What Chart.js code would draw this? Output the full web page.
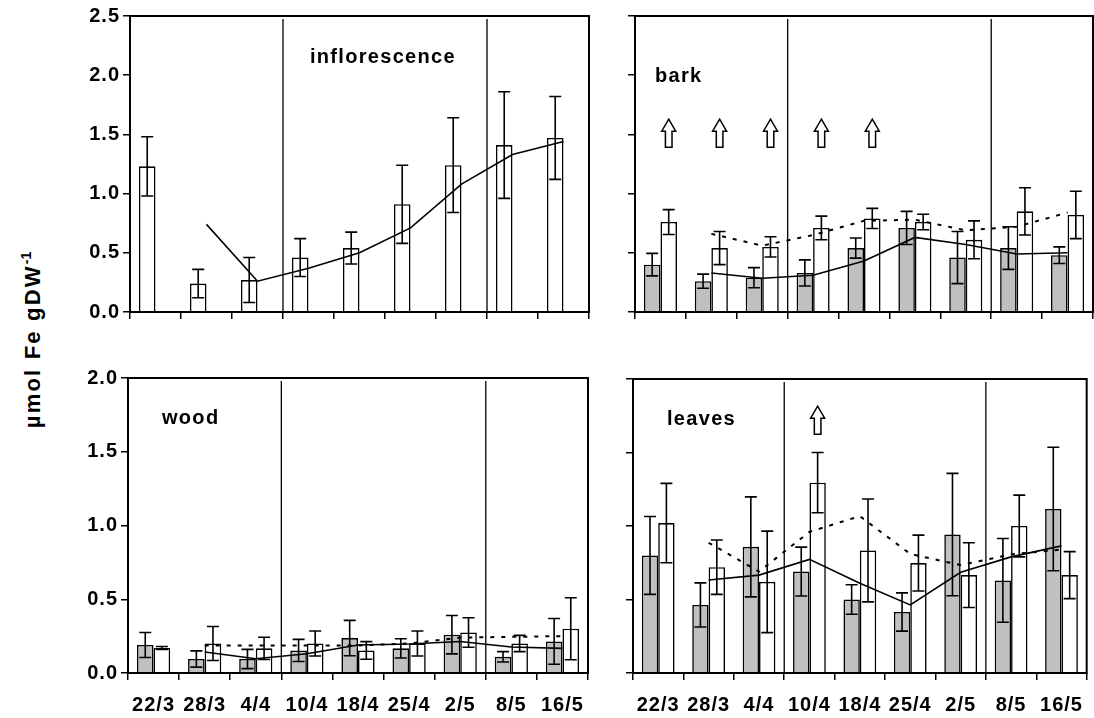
<!DOCTYPE html>
<html>
<head>
<title>Fe content by tissue</title>
<script src="https://cdn.jsdelivr.net/npm/chart.js"></script>
<style>
  body { margin: 0; background: #fff; width: 1094px; height: 718px; position: relative; overflow: hidden; }
  canvas { position: absolute; }
  #ytitle {
    position: absolute; left: 32px; top: 340px;
    transform: translate(-50%, -50%) rotate(-90deg);
    white-space: nowrap; font: bold 22px "Liberation Sans", Arial, sans-serif; letter-spacing: 2.2px; color: #000;
  }
  #ytitle sup { font-size: 14px; letter-spacing: 0; }
</style>
</head>
<body>
<div id="ytitle">µmol Fe gDW<sup>-1</sup></div>
<canvas id="infl" width="600" height="340" style="left:0;top:0"></canvas>
<canvas id="bark" width="494" height="340" style="left:600px;top:0"></canvas>
<canvas id="wood" width="600" height="378" style="left:0;top:340px"></canvas>
<canvas id="leaves" width="494" height="378" style="left:600px;top:340px"></canvas>
<script>
    // sampling dates
    const dates = ['22/3', '28/3', '4/4', '10/4', '18/4', '25/4', '2/5', '8/5', '16/5'];

    // inflorescence (one series only)
    const inflMean  = [1.23, 0.24, 0.27, 0.46, 0.54, 0.91, 1.24, 1.41, 1.47];
    const inflSd    = [0.25, 0.12, 0.19, 0.16, 0.135, 0.33, 0.40, 0.45, 0.35];
    const inflTrend = [null, 0.74, 0.26, 0.37, 0.50, 0.71, 1.08, 1.33, 1.44];

    // bark
    const barkGrey       = [0.40, 0.26, 0.29, 0.33, 0.54, 0.71, 0.46, 0.54, 0.48];
    const barkGreySd     = [0.095, 0.06, 0.085, 0.11, 0.085, 0.14, 0.22, 0.18, 0.07];
    const barkWhite      = [0.76, 0.54, 0.55, 0.71, 0.79, 0.76, 0.61, 0.85, 0.82];
    const barkWhiteSd    = [0.105, 0.14, 0.085, 0.10, 0.085, 0.065, 0.16, 0.20, 0.20];
    const barkGreyTrend  = [null, 0.33, 0.285, 0.31, 0.43, 0.63, 0.57, 0.49, 0.50];
    const barkWhiteTrend = [null, 0.66, 0.56, 0.65, 0.77, 0.78, 0.69, 0.72, 0.84];
    const barkArrows     = ['22/3', '28/3', '4/4', '10/4', '18/4'];

    // wood
    const woodGrey       = [0.19, 0.095, 0.095, 0.153, 0.237, 0.167, 0.26, 0.11, 0.214];
    const woodGreySd     = [0.085, 0.055, 0.065, 0.075, 0.12, 0.065, 0.13, 0.035, 0.155];
    const woodWhite      = [0.17, 0.20, 0.167, 0.20, 0.153, 0.20, 0.275, 0.20, 0.30];
    const woodWhiteSd    = [0.01, 0.115, 0.075, 0.085, 0.06, 0.085, 0.10, 0.055, 0.21];
    const woodGreyTrend  = [null, 0.142, 0.097, 0.13, 0.19, 0.197, 0.214, 0.176, 0.167];
    const woodWhiteTrend = [null, 0.187, 0.187, 0.187, 0.187, 0.20, 0.24, 0.245, 0.25];

    // leaves
    const leafGrey       = [0.80, 0.463, 0.858, 0.69, 0.50, 0.415, 0.942, 0.63, 1.116];
    const leafGreySd     = [0.265, 0.15, 0.34, 0.166, 0.10, 0.13, 0.416, 0.285, 0.42];
    const leafWhite      = [1.02, 0.72, 0.62, 1.295, 0.834, 0.748, 0.666, 1.0, 0.666];
    const leafWhiteSd    = [0.27, 0.185, 0.345, 0.205, 0.35, 0.19, 0.22, 0.21, 0.16];
    const leafGreyTrend  = [null, 0.633, 0.666, 0.773, 0.61, 0.463, 0.685, 0.79, 0.865];
    const leafWhiteTrend = [null, 0.886, 0.69, 0.96, 1.067, 0.81, 0.734, 0.807, 0.84];
    const leafArrows     = ['10/4'];

    const FONT = { family: '"Liberation Sans", Arial, sans-serif', weight: 'bold', size: 20 };

    // the original's lettering is a bit wide, so space the glyphs out
    const spacing = {
        id: 'spacing',
        beforeDraw(chart) { chart.ctx.letterSpacing = '1px'; }
    };

    // mean +/- sd whiskers with caps
    const errorBars = {
        id: 'errorBars',
        afterDatasetsDraw(chart) {
            const ctx = chart.ctx, y = chart.scales.y;
            ctx.save();
            ctx.strokeStyle = '#000';
            ctx.lineWidth = 1.6;
            chart.data.datasets.forEach((ds, i) => {
                if (!ds.sd) return;
                chart.getDatasetMeta(i).data.forEach((bar, j) => {
                    const v = ds.data[j];
                    if (v == null) return;
                    const hi = y.getPixelForValue(v + ds.sd[j]);
                    const lo = y.getPixelForValue(Math.max(v - ds.sd[j], 0));
                    const cap = 6;
                    ctx.beginPath();
                    ctx.moveTo(bar.x, hi); ctx.lineTo(bar.x, lo);
                    ctx.moveTo(bar.x - cap, hi); ctx.lineTo(bar.x + cap, hi);
                    ctx.moveTo(bar.x - cap, lo); ctx.lineTo(bar.x + cap, lo);
                    ctx.stroke();
                });
            });
            ctx.restore();
        }
    };

    function drawArrow(ctx, cx, cy) {
        const h = 28, headH = 12, headW = 7, shaftW = 3.3;
        const top = cy - h / 2, bot = cy + h / 2;
        ctx.beginPath();
        ctx.moveTo(cx, top);
        ctx.lineTo(cx + headW, top + headH);
        ctx.lineTo(cx + shaftW, top + headH);
        ctx.lineTo(cx + shaftW, bot);
        ctx.lineTo(cx - shaftW, bot);
        ctx.lineTo(cx - shaftW, top + headH);
        ctx.lineTo(cx - headW, top + headH);
        ctx.closePath();
        ctx.fillStyle = '#fff';
        ctx.fill();
        ctx.stroke();
    }

    // frame, period separators, panel name, arrows
    const decor = {
        id: 'decor',
        afterDraw(chart, args, opts) {
            const ctx = chart.ctx, a = chart.chartArea, x = chart.scales.x, y = chart.scales.y;
            ctx.save();
            ctx.letterSpacing = '1.3px';
            ctx.strokeStyle = '#000';
            ctx.lineWidth = 1.3;
            [2, 6].forEach(i => {
                const px = (x.getPixelForValue(i) + x.getPixelForValue(i + 1)) / 2;
                ctx.beginPath();
                ctx.moveTo(px, a.top + 3); ctx.lineTo(px, a.bottom);
                ctx.stroke();
            });
            ctx.lineWidth = 2;
            ctx.strokeRect(a.left, a.top, a.right - a.left, a.bottom - a.top);
            ctx.fillStyle = '#000';
            ctx.font = 'bold 20px "Liberation Sans", Arial, sans-serif';
            ctx.textBaseline = 'middle';
            ctx.fillText(opts.name, a.left + opts.dx, a.top + opts.dy);
            ctx.lineWidth = 1.5;
            const meta = chart.getDatasetMeta(1);
            (opts.arrows || []).forEach(d => {
                const bar = meta.data[dates.indexOf(d)];
                drawArrow(ctx, bar.x, y.getPixelForValue(opts.arrowY));
            });
            ctx.restore();
        }
    };

    function barSet(data, sd, color) {
        return { type: 'bar', data, sd, backgroundColor: color, borderColor: '#000', borderWidth: 1.6,
                 categoryPercentage: 0.65, barPercentage: 1.0, order: 2 };
    }
    function lineSet(data, dashed) {
        return { type: 'line', data, borderColor: '#000', borderWidth: dashed ? 2 : 1.6,
                 borderDash: dashed ? [4, 7] : [], pointRadius: 0, fill: false, tension: 0, order: 1 };
    }

    function makePanel(id, datasets, p) {
        return new Chart(document.getElementById(id), {
            type: 'bar',
            data: { labels: dates, datasets },
            options: {
                responsive: false,
                animation: false,
                layout: { padding: { top: p.top, right: p.right, left: 0, bottom: 0 } },
                plugins: {
                    legend: { display: false },
                    tooltip: { enabled: false },
                    decor: { name: p.name, dx: p.dx, dy: p.dy, arrows: p.arrows, arrowY: p.arrowY }
                },
                scales: {
                    x: {
                        grid: { drawOnChartArea: false, tickLength: 7, color: '#000', lineWidth: 1.5 },
                        border: { display: false },
                        ticks: { display: p.xLabels, color: '#000', font: FONT, padding: 13, autoSkip: false, maxRotation: 0 },
                        afterFit(s) { s.height = p.xHeight; }
                    },
                    y: {
                        min: 0, max: p.max,
                        grid: { drawOnChartArea: false, tickLength: 7, color: '#000', lineWidth: 1.5 },
                        border: { display: false },
                        ticks: { display: p.yLabels, stepSize: 0.5, color: '#000', font: FONT, padding: 3,
                                 callback: v => v.toFixed(1) },
                        afterFit(s) { s.width = p.yWidth; }
                    }
                }
            },
            plugins: [spacing, errorBars, decor]
        });
    }

    const nulls = dates.map(() => null);

    makePanel('infl', [
        barSet(inflMean, inflSd, '#fff'),
        barSet(nulls, null, '#fff'),
        lineSet(inflTrend, false)
    ], { name: 'inflorescence', dx: 180, dy: 41, max: 2.5, top: 16, right: 11, yWidth: 130, xHeight: 28,
         xLabels: false, yLabels: true });

    makePanel('bark', [
        barSet(barkGrey, barkGreySd, '#c0c0c0'),
        barSet(barkWhite, barkWhiteSd, '#fff'),
        lineSet(barkGreyTrend, false),
        lineSet(barkWhiteTrend, true)
    ], { name: 'bark', dx: 20, dy: 60, max: 2.5, top: 16, right: 1, yWidth: 35, xHeight: 28,
         xLabels: false, yLabels: false, arrows: barkArrows, arrowY: 1.51 });

    makePanel('wood', [
        barSet(woodGrey, woodGreySd, '#c0c0c0'),
        barSet(woodWhite, woodWhiteSd, '#fff'),
        lineSet(woodGreyTrend, false),
        lineSet(woodWhiteTrend, true)
    ], { name: 'wood', dx: 34, dy: 40, max: 2.0, top: 38, right: 12, yWidth: 128, xHeight: 45,
         xLabels: true, yLabels: true });

    makePanel('leaves', [
        barSet(leafGrey, leafGreySd, '#c0c0c0'),
        barSet(leafWhite, leafWhiteSd, '#fff'),
        lineSet(leafGreyTrend, false),
        lineSet(leafWhiteTrend, true)
    ], { name: 'leaves', dx: 34, dy: 40, max: 2.0, top: 39, right: 1, yWidth: 33, xHeight: 45,
         xLabels: true, yLabels: false, arrows: leafArrows, arrowY: 1.72 });
</script>
</body>
</html>
